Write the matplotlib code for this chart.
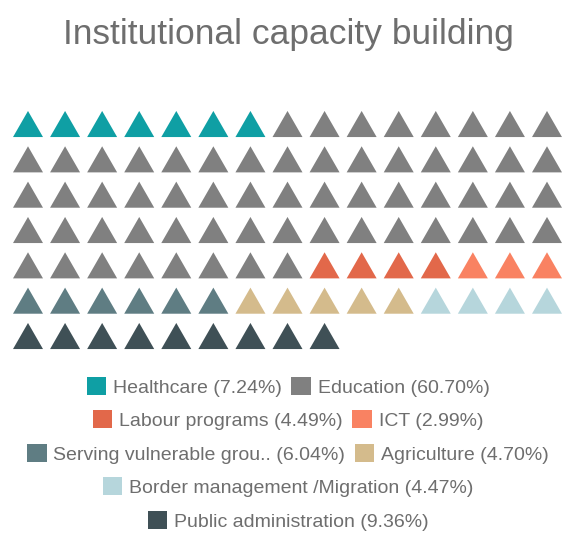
import matplotlib.pyplot as plt
from matplotlib.patches import Patch
import numpy as np

plt.rcParams['font.family'] = ['Liberation Sans', 'DejaVu Sans']

title = 'Institutional capacity building'
categories = ['Healthcare', 'Education', 'Labour programs', 'ICT',
              'Serving vulnerable grou..', 'Agriculture',
              'Border management /Migration', 'Public administration']
percents = [7.24, 60.70, 4.49, 2.99, 6.04, 4.70, 4.47, 9.36]
# number of triangles drawn for each category
counts = [7, 61, 4, 3, 6, 5, 4, 9]
colors = ['#0f9fa4', '#808080', '#e2684a', '#f98262',
          '#5f7d83', '#d4bb8c', '#b6d6dc', '#3f5056']
legend_rows = [[0, 1], [2, 3], [4, 5], [6], [7]]
n_cols = 15

W, H = 563, 534
fig = plt.figure(figsize=(W / 100, H / 100), dpi=100)
ax = fig.add_axes([0, 0, 1, 1])
ax.axis('off')

# waffle positions, filled row by row
idx = np.arange(sum(counts))
xs = idx % n_cols
ys = idx // n_cols
cols = np.repeat(colors, counts)

tri = [(0, 0.87), (-1, -0.87), (1, -0.87)]
ax.scatter(xs, ys, marker=tri, s=21.6 ** 2, c=cols, linewidths=0)

# map grid units to pixels: first col at 28px, last at 547px; rows at 124..336px
sx = (547 - 28) / (n_cols - 1)
sy = (336 - 124) / 6
ax.set_xlim(-28 / sx, (W - 28) / sx)
ax.set_ylim((H - 124) / sy, -124 / sy)

cx = 288 / W
fig.text(cx, 1 - 44 / H, title, ha='center', va='baseline',
         fontsize=25.5, color='#6e6e6e')

row_y = [387, 420, 454, 487, 521]
for row, y in zip(legend_rows, row_y):
    handles = [Patch(facecolor=colors[i], edgecolor='none') for i in row]
    labels = ['%s (%.2f%%)' % (categories[i], percents[i]) for i in row]
    fig.legend(handles, labels, loc='center', bbox_to_anchor=(cx, 1 - y / H),
               ncol=len(row), frameon=False, fontsize=14,
               handlelength=1.0, handleheight=1.0, handletextpad=0.35,
               columnspacing=0.5, borderpad=0, borderaxespad=0,
               labelcolor='#6e6e6e')

plt.savefig('out.png', dpi=100)
